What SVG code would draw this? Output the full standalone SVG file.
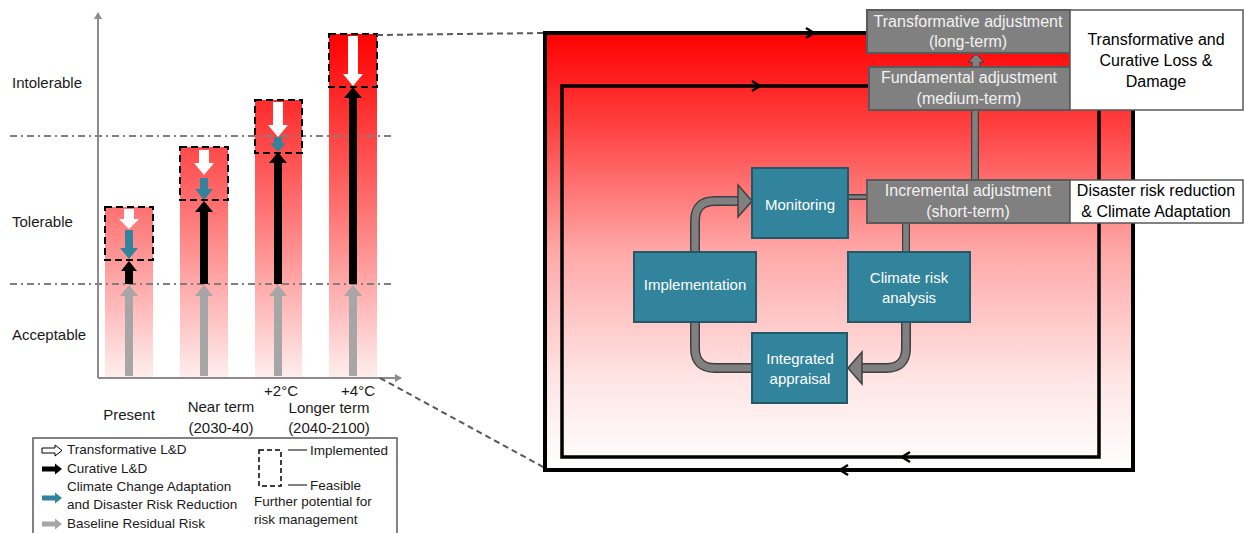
<svg xmlns="http://www.w3.org/2000/svg" width="1244" height="533" viewBox="0 0 1244 533">
<defs>
<style>
text{font-family:"Liberation Sans",Arial,sans-serif;fill:#1a1a1a}
.lab{font-size:15px}
.leg{font-size:13.5px}
.gbox{fill:#808080;stroke:#5a5a5a;stroke-width:2}
.gt{font-size:16px;fill:#f2f2f2;text-anchor:middle}
.wbox{fill:#fff;stroke:#595959;stroke-width:1.5}
.wt{font-size:16px;fill:#000;text-anchor:middle}
.tbox{fill:#31849b;stroke:#215968;stroke-width:2}
.tt{font-size:15px;fill:#fff;text-anchor:middle}
.dd{fill:none;stroke:#000;stroke-width:2;stroke-dasharray:7 4}
.ddl{stroke:#7f7f7f;stroke-width:2;stroke-dasharray:7 4 2 4}
.pipeo{fill:none;stroke:#3f3f3f;stroke-width:10}
.pipei{fill:none;stroke:#808080;stroke-width:7}
.ph{fill:#808080;stroke:#3f3f3f;stroke-width:1.5}
</style>
<linearGradient id="barg" gradientUnits="userSpaceOnUse" x1="0" y1="34" x2="0" y2="378">
<stop offset="0" stop-color="#ff0000"/>
<stop offset="0.5" stop-color="#ff7070"/>
<stop offset="1" stop-color="#ffeeee"/>
</linearGradient>
<linearGradient id="frg" gradientUnits="userSpaceOnUse" x1="0" y1="33" x2="0" y2="470">
<stop offset="0" stop-color="#ff0000"/>
<stop offset="0.2" stop-color="#ff3c3c"/>
<stop offset="0.5" stop-color="#ffa8a8"/>
<stop offset="0.8" stop-color="#ffe6e6"/>
<stop offset="1" stop-color="#ffffff"/>
</linearGradient>
<marker id="ax" markerWidth="8" markerHeight="8" refX="6" refY="4" orient="auto" markerUnits="userSpaceOnUse">
<path d="M0,0 L7,4 L0,8 Z" fill="#8c8c8c"/>
</marker>
</defs>

<!-- left chart -->
<g id="chart">
<rect x="105" y="207" width="48" height="170" fill="url(#barg)"/>
<rect x="180" y="147" width="48" height="230" fill="url(#barg)"/>
<rect x="255" y="100" width="47" height="277" fill="url(#barg)"/>
<rect x="329" y="34" width="48" height="343" fill="url(#barg)"/>
<line x1="10" y1="136" x2="395" y2="136" class="ddl"/>
<line x1="10" y1="284" x2="395" y2="284" class="ddl"/>
<line x1="98" y1="378" x2="98" y2="13" stroke="#8c8c8c" stroke-width="2" marker-end="url(#ax)"/>
<line x1="98" y1="378" x2="401" y2="378" stroke="#8c8c8c" stroke-width="2" marker-end="url(#ax)"/>
<text class="lab" x="12" y="88">Intolerable</text>
<text class="lab" x="12" y="227">Tolerable</text>
<text class="lab" x="12" y="340">Acceptable</text>
<text class="lab" x="129" y="420" text-anchor="middle">Present</text>
<text class="lab" x="221" y="412" text-anchor="middle">Near term</text>
<text class="lab" x="221" y="433" text-anchor="middle">(2030-40)</text>
<text class="lab" x="281" y="396" text-anchor="middle">+2°C</text>
<text class="lab" x="358" y="396" text-anchor="middle">+4°C</text>
<text class="lab" x="329" y="413" text-anchor="middle">Longer term</text>
<text class="lab" x="329" y="433" text-anchor="middle">(2040-2100)</text>
</g>

<g id="bar-arrows">
<path d="M125,376 V296 H120 L129,285 L138,296 H133 V376 Z" fill="#a6a6a6"/>
<path d="M200,376 V296 H195 L204,285 L213,296 H208 V376 Z" fill="#a6a6a6"/>
<path d="M274,376 V296 H269 L278,285 L287,296 H282 V376 Z" fill="#a6a6a6"/>
<path d="M349,376 V296 H344 L353,285 L362,296 H357 V376 Z" fill="#a6a6a6"/>
<path d="M125,284 V271 H121 L129,261 L137,271 H133 V284 Z" fill="#000"/>
<path d="M200,284 V212 H195 L204,201 L213,212 H208 V284 Z" fill="#000"/>
<path d="M274,284 V163 H269 L278,152 L287,163 H282 V284 Z" fill="#000"/>
<path d="M349,284 V98 H344 L353,87 L362,98 H357 V284 Z" fill="#000"/>
<path d="M125,230 V248 H120 L129,259 L138,248 H133 V230 Z" fill="#31849b"/>
<path d="M200,178 V189 H195 L204,200 L213,189 H208 V178 Z" fill="#31849b"/>
<path d="M274,137 V143 H270 L278,152 L286,143 H282 V137 Z" fill="#31849b"/>
<path d="M124,209 V219 H119 L129,229 L139,219 H134 V209 Z" fill="#fff"/>
<path d="M199,150 V163 H194 L204,175 L214,163 H209 V150 Z" fill="#fff"/>
<path d="M273,102 V125 H268 L278,137 L288,125 H283 V102 Z" fill="#fff"/>
<path d="M348,36 V74 H343 L353,86 L363,74 H358 V36 Z" fill="#fff"/>
<rect x="105" y="207" width="48" height="53" class="dd"/>
<rect x="180" y="147" width="48" height="53" class="dd"/>
<rect x="255" y="100" width="47" height="53" class="dd"/>
<rect x="329" y="34" width="48" height="53" class="dd"/>
</g>

<!-- legend -->
<g id="legend">
<rect x="33" y="438" width="364" height="100" fill="#fff" stroke="#595959" stroke-width="1.5"/>
<path d="M42,448 H55 V445 L62,450.5 L55,456 V453 H42 Z" fill="#fff" stroke="#000" stroke-width="1"/>
<path d="M42,466.5 H55 V463.5 L62,469 L55,474.5 V471.5 H42 Z" fill="#000"/>
<path d="M42,495.5 H55 V492.5 L62,498 L55,503.5 V500.5 H42 Z" fill="#31849b"/>
<path d="M42,521.5 H55 V518.5 L62,524 L55,529.5 V526.5 H42 Z" fill="#a6a6a6"/>
<text class="leg" x="67" y="454">Transformative L&amp;D</text>
<text class="leg" x="67" y="473">Curative L&amp;D</text>
<text class="leg" x="67" y="491">Climate Change Adaptation</text>
<text class="leg" x="67" y="509">and Disaster Risk Reduction</text>
<text class="leg" x="67" y="528">Baseline Residual Risk</text>
<rect x="259" y="450" width="22" height="36" fill="none" stroke="#000" stroke-width="1.5" stroke-dasharray="5 3"/>
<line x1="288" y1="450" x2="307" y2="450" stroke="#000" stroke-width="1"/>
<line x1="288" y1="485" x2="307" y2="485" stroke="#000" stroke-width="1"/>
<text class="leg" x="310" y="455">Implemented</text>
<text class="leg" x="310" y="490">Feasible</text>
<text class="leg" x="254" y="506">Further potential for</text>
<text class="leg" x="254" y="524">risk management</text>
</g>

<!-- zoom connectors -->
<g id="connectors">
<line x1="377" y1="35" x2="545" y2="33" stroke="#595959" stroke-width="2" stroke-dasharray="6 4"/>
<line x1="380" y1="378" x2="545" y2="468" stroke="#595959" stroke-width="2" stroke-dasharray="6 4"/>
</g>

<!-- right frame -->
<g id="frame">
<rect x="545" y="33" width="588" height="437" fill="url(#frg)" stroke="#000" stroke-width="4"/>
<rect x="562" y="86" width="537" height="371" fill="none" stroke="#000" stroke-width="3.5"/>
<path d="M806,28 L814,33 L806,38" fill="none" stroke="#000" stroke-width="2.5"/>
<path d="M752,81 L760,86 L752,91" fill="none" stroke="#000" stroke-width="2.5"/>
<path d="M910,452 L902,457 L910,462" fill="none" stroke="#000" stroke-width="2.5"/>
<path d="M848,465 L840,470 L848,475" fill="none" stroke="#000" stroke-width="2.5"/>
</g>

<!-- process links -->
<g id="links">
<line x1="848" y1="197" x2="867" y2="197" stroke="#3f3f3f" stroke-width="6"/>
<line x1="848" y1="197" x2="867" y2="197" stroke="#808080" stroke-width="3"/>
<line x1="975" y1="110" x2="975" y2="180" stroke="#3f3f3f" stroke-width="8"/>
<line x1="975" y1="110" x2="975" y2="180" stroke="#808080" stroke-width="5.5"/>
<line x1="906" y1="223" x2="906" y2="252" stroke="#3f3f3f" stroke-width="8"/>
<line x1="906" y1="223" x2="906" y2="252" stroke="#808080" stroke-width="5.5"/>
<path d="M976,54 L984,62 H980 V67 H972 V62 H968 Z" fill="#808080" stroke="#3f3f3f" stroke-width="1"/>
<path d="M695,252 V221 Q695,201 715,201 H740" class="pipeo"/>
<path d="M695,252 V221 Q695,201 715,201 H741" class="pipei"/>
<path d="M738,185 L752,201 L738,217 Z" class="ph"/>
<path d="M695,322 V348 Q695,368 715,368 H752" class="pipeo"/>
<path d="M695,322 V348 Q695,368 715,368 H752" class="pipei"/>
<path d="M906,322 V348 Q906,368 886,368 H861" class="pipeo"/>
<path d="M906,322 V348 Q906,368 886,368 H860" class="pipei"/>
<path d="M862,352 L848,368 L862,384 Z" class="ph"/>
</g>

<g id="n-transformative"><rect x="867" y="10" width="203" height="43" class="gbox"/><text class="gt" x="968" y="27">Transformative adjustment</text><text class="gt" x="968" y="47">(long-term)</text></g>
<g id="n-fundamental"><rect x="869" y="67" width="201" height="43" class="gbox"/><text class="gt" x="969" y="83">Fundamental adjustment</text><text class="gt" x="969" y="104">(medium-term)</text></g>
<g id="n-incremental"><rect x="867" y="180" width="203" height="43" class="gbox"/><text class="gt" x="968" y="196">Incremental adjustment</text><text class="gt" x="968" y="217">(short-term)</text></g>
<g id="n-loss"><rect x="1070" y="10" width="173" height="100" class="wbox"/><text class="wt" x="1156" y="45">Transformative and</text><text class="wt" x="1156" y="66">Curative Loss &amp;</text><text class="wt" x="1156" y="87">Damage</text></g>
<g id="n-drr"><rect x="1070" y="180" width="173" height="43" class="wbox"/><text class="wt" x="1156" y="196">Disaster risk reduction</text><text class="wt" x="1156" y="217">&amp; Climate Adaptation</text></g>
<g id="n-monitoring"><rect x="752" y="168" width="96" height="70" class="tbox"/><text class="tt" x="800" y="210">Monitoring</text></g>
<g id="n-implementation"><rect x="634" y="252" width="122" height="70" class="tbox"/><text class="tt" x="695" y="290">Implementation</text></g>
<g id="n-climate"><rect x="848" y="252" width="122" height="70" class="tbox"/><text class="tt" x="909" y="283">Climate risk</text><text class="tt" x="909" y="303">analysis</text></g>
<g id="n-integrated"><rect x="752" y="333" width="95" height="70" class="tbox"/><text class="tt" x="800" y="364">Integrated</text><text class="tt" x="800" y="384">appraisal</text></g>
</svg>
